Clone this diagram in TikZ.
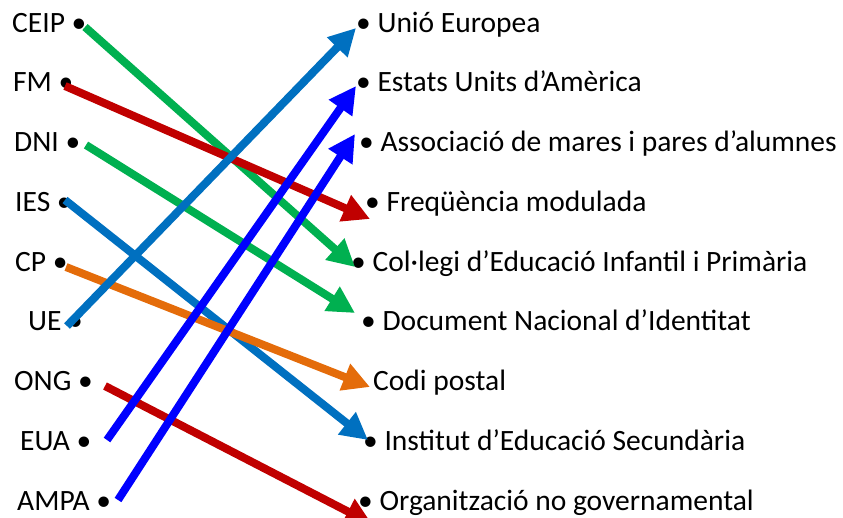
\documentclass[tikz,border=0pt]{standalone}
\usepackage{fontspec}
\setmainfont{Carlito}
\usetikzlibrary{arrows.meta,positioning,calc}
\definecolor{grn}{HTML}{00B050}
\definecolor{dred}{HTML}{C00000}
\definecolor{lblue}{HTML}{0070C0}
\definecolor{pblue}{HTML}{0000FF}
\definecolor{orng}{HTML}{E46C0A}

\begin{document}
\begin{tikzpicture}[x=1pt, y=-1pt,
			lbl/.style={inner sep=0pt, anchor=base west, font=\fontsize{29.5}{34}\selectfont},
			link/.style={line width=8pt, -{Triangle[length=27pt, width=27pt]}},
			]
			\useasboundingbox (0,0) rectangle (843,517);
			\clip (0,0) rectangle (843,517);
			
			% left column
			\foreach \n/\x/\t [count=\i] in {ceip/12/CEIP, fm/13/FM, dni/14/DNI, ies/15/IES, cp/15/CP, ue/28/UE, ong/14/ONG, eua/20/EUA, ampa/17/AMPA}
			{\node[lbl] (\n) at (\x, {32+(\i-1)*59.75}) {\t\ •};}
			
			% right column
			\foreach \n/\x/\t [count=\i] in {uniEur/356/• Unió Europea, estats/356/• Estats Units d’Amèrica, assoc/359/• Associació de mares i pares d’alumnes, freq/365/• Freqüència modulada, collegi/351/• Col·legi d’Educació Infantil i Primària, docNac/361/• Document Nacional d’Identitat, codiPost/373/Codi postal, instEdu/363/• Institut d’Educació Secundària, orgNoGov/358/• Organització no governamental}
			{\node[lbl] (\n) at (\x, {32+(\i-1)*59.75}) {\t};}
			
			% arrow ends
			\coordinate (ceipS) at (85,27);     \coordinate (collegiE) at (355,267);
			\coordinate (fmS) at (65,86);       \coordinate (freqE) at (370,219);
			\coordinate (dniS) at (86,145);     \coordinate (docNacE) at (355,313);
			\coordinate (iesS) at (65,200);     \coordinate (instEduE) at (368,440);
			\coordinate (cpS) at (66,267);      \coordinate (codiPostE) at (370,387);
			\coordinate (ueS) at (67,326);      \coordinate (uniEurE) at (356,28);
			\coordinate (ongS) at (105,386);    \coordinate (orgNoGovE) at (372,524);
			\coordinate (euaS) at (107,440);    \coordinate (estatsE) at (356,86);
			\coordinate (ampaS) at (118,500);   \coordinate (assocE) at (355,134);
			
			% Arrow
			\draw [link, grn] (ceipS) -- (collegiE);
			\draw [link, dred] (fmS) -- (freqE);
			\draw [link, grn] (dniS) -- (docNacE);
			\draw [link, lblue] (iesS) -- (instEduE);
			\draw [link, orng] (cpS) -- (codiPostE);
			\draw [link, lblue] (ueS) -- (uniEurE);
			\draw [link, dred] (ongS) -- (orgNoGovE);
			\draw [link, pblue] (euaS) -- (estatsE);
			\draw [link, pblue] (ampaS) -- (assocE);
			
		\end{tikzpicture}
\end{document}
